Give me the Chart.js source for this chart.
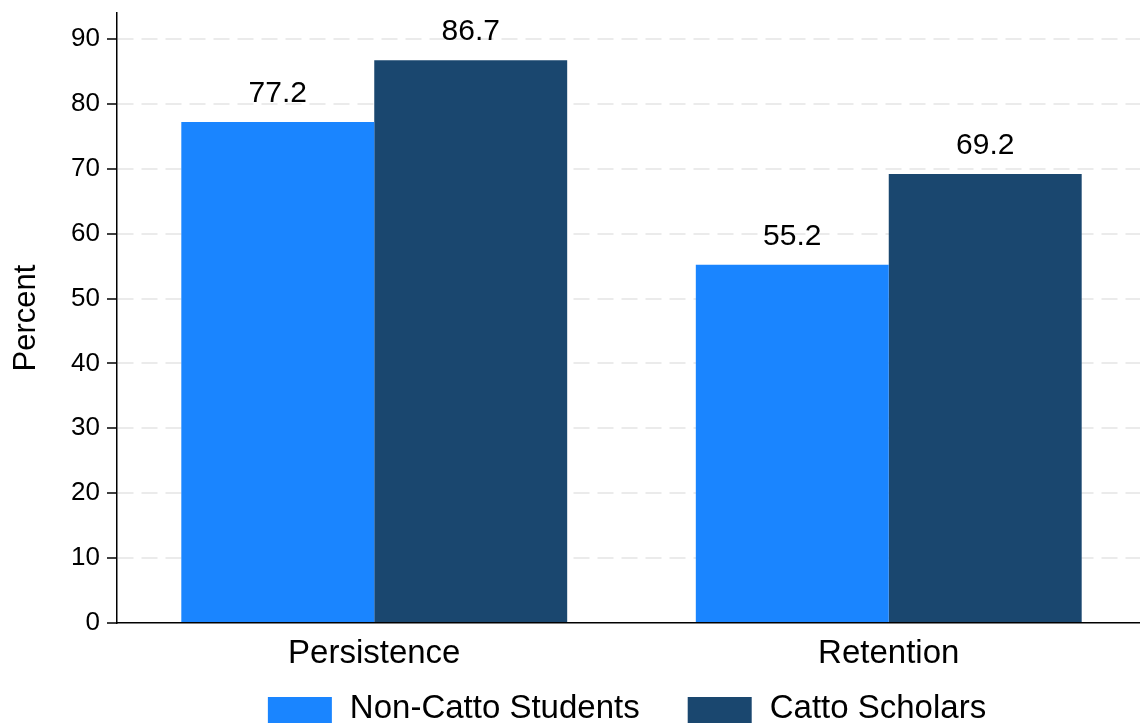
<!DOCTYPE html>
<html>
<head>
<meta charset="utf-8">
<script src="https://cdn.jsdelivr.net/npm/chart.js@4"></script>
<style>
  html, body { margin: 0; padding: 0; background: #fff; overflow: hidden; }
  canvas { display: block; }
</style>
</head>
<body>
<canvas id="outcomeChart" width="1146" height="723"></canvas>
<script>
const categories = ['Persistence', 'Retention'];
const seriesNames = ['Non-Catto Students', 'Catto Scholars'];
const nonCatto = [77.2, 55.2];
const catto = [86.7, 69.2];
const yTicks = [0, 10, 20, 30, 40, 50, 60, 70, 80, 90];

const FONT = 'Arial, "Liberation Sans", Helvetica, sans-serif';
const seriesColors = ['#1a85ff', '#1a476f'];

// value printed above each bar
const barLabels = {
    id: 'barLabels',
    afterDatasetsDraw(chart) {
        const ctx = chart.ctx;
        ctx.save();
        ctx.font = '30px ' + FONT;
        ctx.fillStyle = '#000';
        ctx.textAlign = 'center';
        ctx.textBaseline = 'alphabetic';
        chart.data.datasets.forEach((ds, i) => {
            chart.getDatasetMeta(i).data.forEach((bar, j) => {
                ctx.fillText(ds.data[j].toFixed(1), bar.x, bar.y - 20);
            });
        });
        ctx.restore();
    }
};

// legend row along the bottom edge
const bottomLegend = {
    id: 'bottomLegend',
    afterDraw(chart) {
        const ctx = chart.ctx;
        const boxW = 64, boxH = 30, gap = 18, itemGap = 48;
        ctx.save();
        ctx.font = '33px ' + FONT;
        const widths = chart.data.datasets.map(ds => boxW + gap + ctx.measureText(ds.label).width);
        const total = widths.reduce((a, b) => a + b, 0) + itemGap * (widths.length - 1);
        let x = 627 - total / 2;
        ctx.textAlign = 'left';
        ctx.textBaseline = 'alphabetic';
        chart.data.datasets.forEach((ds, i) => {
            ctx.fillStyle = ds.backgroundColor;
            ctx.fillRect(x, 697, boxW, boxH);
            ctx.fillStyle = '#000';
            ctx.fillText(ds.label, x + boxW + gap, 718);
            x += widths[i] + itemGap;
        });
        ctx.restore();
    }
};

document.addEventListener("DOMContentLoaded", function () {
    const ctx = document.getElementById('outcomeChart').getContext('2d');
    new Chart(ctx, {
        type: 'bar',
        data: {
            labels: categories,
            datasets: [{
                label: seriesNames[0],
                data: nonCatto,
                backgroundColor: seriesColors[0]
            }, {
                label: seriesNames[1],
                data: catto,
                backgroundColor: seriesColors[1]
            }]
        },
        options: {
            responsive: false,
            animation: false,
            categoryPercentage: 0.75,
            barPercentage: 1,
            layout: { padding: { top: 13, bottom: 50, left: 0, right: 0 } },
            plugins: {
                legend: { display: false },
                tooltip: { enabled: false }
            },
            scales: {
                x: {
                    afterFit(scale) {
                        scale.height = 50;
                        scale.paddingLeft = 0;
                        scale.paddingRight = 0;
                    },
                    grid: { display: false },
                    border: { color: '#000', width: 1.5 },
                    ticks: { color: '#000', padding: 3, font: { size: 33, family: FONT } }
                },
                y: {
                    min: 0,
                    max: 94,
                    afterFit(scale) {
                        scale.width = 117;
                        scale.paddingTop = 0;
                        scale.paddingBottom = 0;
                    },
                    afterBuildTicks(scale) { scale.ticks = yTicks.map(v => ({ value: v })); },
                    ticks: { color: '#000', padding: 7, font: { size: 26, family: FONT } },
                    grid: {
                        color: c => (c.tick && c.tick.value === 0) ? 'rgba(0,0,0,0)' : '#ebebeb',
                        lineWidth: 2,
                        tickColor: '#000',
                        tickWidth: 1.5,
                        tickLength: 10
                    },
                    border: { color: '#000', width: 1.5, dash: [16, 8] },
                    title: {
                        display: true,
                        text: 'Percent',
                        color: '#000',
                        font: { size: 31, family: FONT },
                        padding: { top: 8, bottom: 0 }
                    }
                }
            }
        },
        plugins: [barLabels, bottomLegend]
    });
});
</script>
</body>
</html>
